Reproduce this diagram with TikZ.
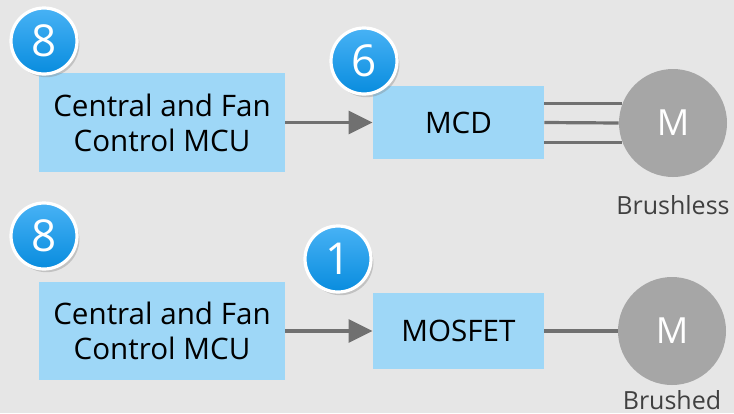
\documentclass[tikz,border=0pt]{standalone}
\usepackage{fontspec}
\setmainfont{Open Sans}
\usetikzlibrary{positioning,arrows.meta,shadows,backgrounds}
\definecolor{bgGray}{RGB}{230,230,230}
\definecolor{boxBlue}{RGB}{158,215,247}
\definecolor{wireGray}{RGB}{112,112,112}
\definecolor{motorGray}{RGB}{166,166,166}
\definecolor{labelGray}{RGB}{64,64,64}
\definecolor{badgeTop}{RGB}{72,178,245}
\definecolor{badgeBot}{RGB}{8,140,222}
\tikzset{
  block/.style={fill=boxBlue, align=center, inner sep=0pt,
    font=\fontsize{14.8}{17.5}\selectfont},
  badge/.style={circle, minimum size=33pt, inner sep=0pt, top color=badgeTop,
    bottom color=badgeBot, draw=white, line width=1.6pt, text=white,
    font=\fontsize{22}{22}\selectfont,
    drop shadow={opacity=0.35, shadow xshift=1.2pt, shadow yshift=-1.6pt}},
  motor/.style={circle, fill=motorGray, minimum size=54pt, inner sep=0pt,
    text=white, font=\fontsize{18}{18}\selectfont},
  motorlabel/.style={text=labelGray, inner sep=0pt, font=\fontsize{12.5}{14}\selectfont},
  wire/.style={draw=wireGray, line width=1.6pt},
  feed/.style={wire, -{Triangle[length=12pt,width=11.5pt]}}
}
\begin{document}
\begin{tikzpicture}[x=0.5pt,y=-0.5pt]
      \useasboundingbox (0,0) rectangle (734,413);
      % first line
      \node[block, minimum width=123pt, minimum height=49.5pt] at (162,122.5) (mcuA) {Central and Fan\\Control MCU};
      \node[block, minimum width=85.5pt, minimum height=36.5pt] at (458.5,122.5) (mcd) {MCD};
      \node[motor] at (673,123) (motA) {M};
      \node[motorlabel, below=9pt of motA] (brushless) {Brushless};
      \draw[feed] (mcuA) -- (mcd);
      \begin{scope}[on background layer]
        \fill[bgGray] (0,0) rectangle (734,413);
        \draw[wire] (mcd.east |- motA.159) -- (motA.159);
        \draw[wire] (mcd.east) -- (motA.west);
        \draw[wire] (mcd.east |- motA.201) -- (motA.201);
      \end{scope}
      \node[badge] at (44,41) (badgeA) {8};
      \node[badge] at (364,61) (badgeB) {6};
      % second line
      \node[block, minimum width=123pt, minimum height=49pt] at (162,331) (mcuB) {Central and Fan\\Control MCU};
      \node[block, minimum width=85.5pt, minimum height=38pt] at (458.5,331) (mosfet) {MOSFET};
      \node[motor] at (672,331) (motB) {M};
      \node[motorlabel, below=2.5pt of motB] (brushed) {Brushed};
      \draw[feed] (mcuB) -- (mosfet);
      \draw[wire] (mosfet) -- (motB);
      \node[badge] at (44,236) (badgeC) {8};
      \node[badge] at (338,259) (badgeD) {1};
\end{tikzpicture}
\end{document}
